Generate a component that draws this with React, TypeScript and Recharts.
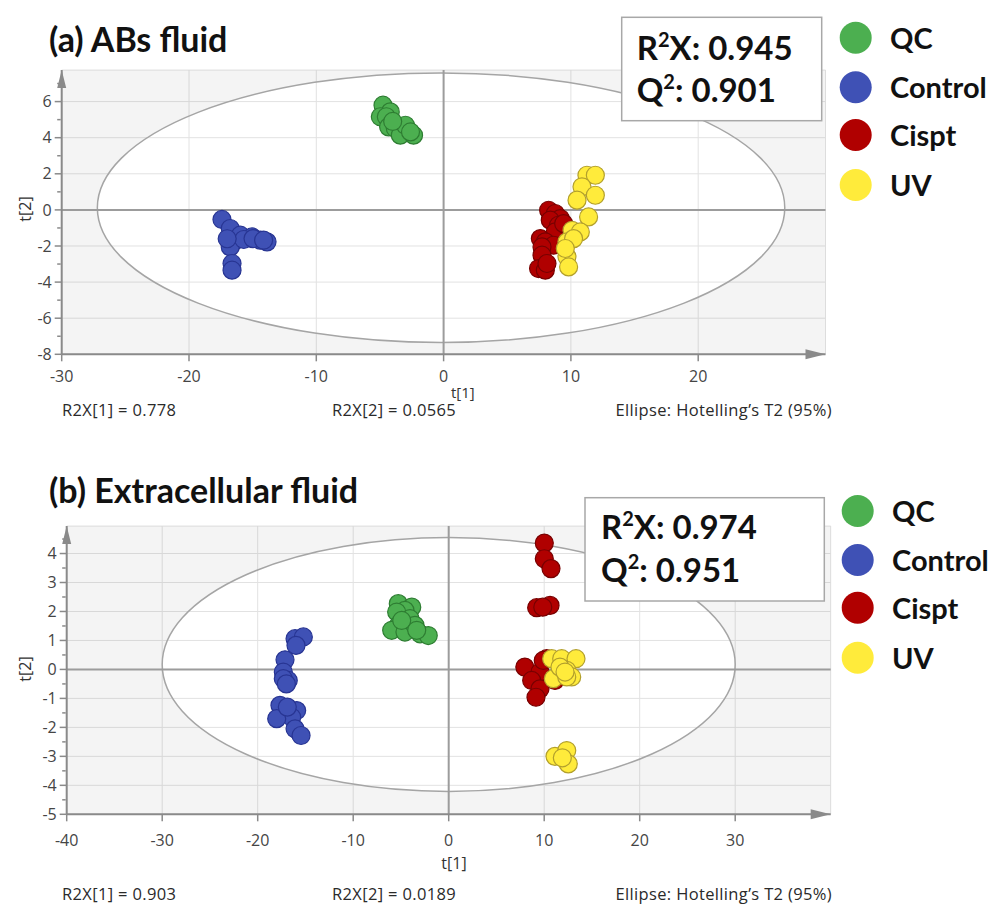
import React from 'react';
import {
  ScatterChart,
  Scatter,
  XAxis,
  YAxis,
  CartesianGrid,
  ReferenceArea,
  ReferenceLine,
  ReferenceDot,
} from 'recharts';

type Pt = [number, number];

const seriesNames = ['QC', 'Control', 'Cispt', 'UV'];
const seriesFill = ['#4caf50', '#3f51b5', '#b00000', '#ffeb3b'];
const seriesStroke = ['#2e7d32', '#283593', '#780000', '#b3a02c'];

// ---------- Panel (a) ABs fluid ----------
const abQC: Pt[] = [
  [-4.76, 5.8], [-4.19, 5.43], [-4.97, 5.16], [-4.5, 5.16], [-4.32, 4.6], [-3.79, 4.51],
  [-3.4, 4.14], [-3.0, 4.69], [-2.36, 4.14], [-4.0, 4.9], [-2.6, 4.32],
];
const abControl: Pt[] = [
  [-17.41, -0.53], [-16.76, -1.03], [-16.5, -1.77], [-15.97, -1.4], [-15.05, -1.5], [-14.4, -1.68],
  [-13.87, -1.77], [-16.76, -2.05], [-15.7, -1.64], [-16.62, -2.97], [-16.62, -3.34], [-17.0, -1.6],
  [-14.97, -1.59], [-14.14, -1.68],
];
const abCispt: Pt[] = [
  [8.25, -0.02], [8.77, -0.2], [9.17, -0.48], [8.38, -0.57], [9.03, -0.85], [8.77, -1.22],
  [7.6, -1.59], [7.99, -1.77], [8.64, -1.96], [7.73, -2.05], [7.73, -2.51], [7.46, -3.25],
  [7.99, -3.34], [8.12, -2.97], [9.43, -0.76],
];
const abUV: Pt[] = [
  [11.26, 1.92], [11.92, 1.92], [10.87, 1.28], [11.92, 0.81], [10.48, 0.54], [11.39, -0.39],
  [10.09, -1.13], [10.74, -1.22], [9.69, -1.77], [10.21, -1.59], [9.69, -2.6], [9.82, -3.16],
  [9.56, -2.14],
];
const abXDomain: Pt = [-30, 30];
const abYDomain: Pt = [-8, 7.75];
const abXTicks = [-30, -20, -10, 0, 10, 20];
const abXMinor = [-25, -15, -5, 5, 15, 25];
const abYTicks = [-8, -6, -4, -2, 0, 2, 4, 6];
const abYMinor = [-7, -5, -3, -1, 1, 3, 5, 7];
const abEllipse = { cx: -0.2, cy: 0.12, rx: 27, ry: 7.47 };
const abStats = ['0.945', '0.901'];
const abFooter = ['R2X[1] = 0.778', 'R2X[2] = 0.0565', 'Ellipse: Hotelling’s T2 (95%)'];

// ---------- Panel (b) Extracellular fluid ----------
const efQC: Pt[] = [
  [-5.28, 2.27], [-3.87, 2.15], [-4.58, 2.04], [-5.45, 1.98], [-4.05, 1.75], [-5.28, 1.52],
  [-5.97, 1.35], [-4.58, 1.29], [-3.53, 1.52], [-3.0, 1.23], [-2.14, 1.17], [-4.92, 1.69],
  [-3.35, 1.35],
];
const efControl: Pt[] = [
  [-16.09, 1.06], [-15.22, 1.12], [-15.99, 0.83], [-17.14, 0.33], [-17.32, -0.09], [-16.8, -0.38],
  [-17.32, -0.32], [-17.0, -0.5], [-17.67, -1.24], [-15.92, -1.42], [-16.44, -1.65], [-18.01, -1.7],
  [-16.09, -2.05], [-15.46, -2.28], [-16.9, -1.3],
];
const efCispt: Pt[] = [
  [10.01, 4.36], [10.01, 3.82], [10.71, 3.48], [9.21, 2.13], [10.61, 2.21], [9.85, 2.15],
  [7.97, 0.08], [10.26, 0.37], [9.56, -0.09], [8.69, -0.38], [9.56, -0.67], [9.14, -0.96],
  [11.13, -0.38], [9.9, 0.31],
];
const efUV: Pt[] = [
  [10.78, 0.37], [11.83, 0.37], [13.33, 0.37], [12.36, -0.03], [10.96, -0.32], [12.88, -0.26],
  [11.65, 0.08], [12.36, -0.26], [12.18, -0.09], [11.13, -3.0], [12.36, -2.8], [12.52, -3.26],
  [11.9, -3.05],
];
const efXDomain: Pt = [-40, 40];
const efYDomain: Pt = [-5, 4.95];
const efXTicks = [-40, -30, -20, -10, 0, 10, 20, 30];
const efXMinor = [-35, -25, -15, -5, 5, 15, 25, 35];
const efYTicks = [-5, -4, -3, -2, -1, 0, 1, 2, 3, 4];
const efYMinor = [-4.5, -3.5, -2.5, -1.5, -0.5, 0.5, 1.5, 2.5, 3.5, 4.5];
const efEllipse = { cx: 0, cy: 0.17, rx: 30, ry: 4.38 };
const efStats = ['0.974', '0.951'];
const efFooter = ['R2X[1] = 0.903', 'R2X[2] = 0.0189', 'Ellipse: Hotelling’s T2 (95%)'];

const AXIS = '#8a8a8a';
const TICK_FONT = { fill: '#454545', fontSize: 16, fontFamily: 'Open Sans' };
const noLabel = () => '';

type PanelProps = {
  top: number;
  height: number;
  margin: { top: number; right: number; bottom: number; left: number };
  xDomain: Pt;
  yDomain: Pt;
  xTicks: number[];
  xMinor: number[];
  yTicks: number[];
  yMinor: number[];
  xTickMargin: number;
  ellipse: { cx: number; cy: number; rx: number; ry: number };
  series: Pt[][];
};

function Panel(p: PanelProps) {
  const { xDomain, yDomain, ellipse } = p;
  const bgShape = (s: any) => {
    const { x, y, width, height } = s;
    const ecx = x + ((ellipse.cx - xDomain[0]) / (xDomain[1] - xDomain[0])) * width;
    const ecy = y + ((yDomain[1] - ellipse.cy) / (yDomain[1] - yDomain[0])) * height;
    const erx = (ellipse.rx / (xDomain[1] - xDomain[0])) * width;
    const ery = (ellipse.ry / (yDomain[1] - yDomain[0])) * height;
    const d =
      `M${x},${y} h${width} v${height} h${-width} Z ` +
      `M${ecx - erx},${ecy} a${erx},${ery} 0 1,0 ${2 * erx},0 a${erx},${ery} 0 1,0 ${-2 * erx},0 Z`;
    return <path d={d} fill="#000" fillOpacity={0.045} fillRule="evenodd" stroke="none" />;
  };
  const ellipseShape = (s: any) => (
    <ellipse
      cx={s.x + s.width / 2}
      cy={s.y + s.height / 2}
      rx={s.width / 2}
      ry={s.height / 2}
      fill="none"
      stroke="#a5a5a5"
      strokeWidth={1.5}
    />
  );
  const upArrow = (s: any) => (
    <path d={`M${s.cx},${s.cy} L${s.cx - 4.5},${s.cy + 18} L${s.cx + 4.5},${s.cy + 18} Z`} fill={AXIS} />
  );
  const rightArrow = (s: any) => (
    <path d={`M${s.cx},${s.cy} L${s.cx - 20},${s.cy - 5} L${s.cx - 20},${s.cy + 5} Z`} fill={AXIS} />
  );
  return (
    <div style={{ position: 'absolute', left: 0, top: p.top, width: 993, height: p.height }}>
      <ScatterChart width={993} height={p.height} margin={p.margin}>
        <CartesianGrid stroke="#e2e2e2" strokeWidth={1} />
        <ReferenceArea
          x1={xDomain[0]}
          x2={xDomain[1]}
          y1={yDomain[0]}
          y2={yDomain[1]}
          shape={bgShape}
          ifOverflow="visible"
        />
        <ReferenceArea
          x1={ellipse.cx - ellipse.rx}
          x2={ellipse.cx + ellipse.rx}
          y1={ellipse.cy - ellipse.ry}
          y2={ellipse.cy + ellipse.ry}
          shape={ellipseShape}
          ifOverflow="visible"
        />
        <ReferenceLine x={0} stroke="#9c9c9c" strokeWidth={2} />
        <ReferenceLine y={0} stroke="#9c9c9c" strokeWidth={2} />
        <XAxis
          type="number"
          dataKey="x"
          domain={xDomain}
          ticks={p.xTicks}
          interval={0}
          height={1}
          allowDataOverflow
          axisLine={{ stroke: AXIS, strokeWidth: 2 }}
          tickLine={{ stroke: AXIS, strokeWidth: 1.5 }}
          tickSize={7}
          tickMargin={p.xTickMargin}
          tick={TICK_FONT}
        />
        <XAxis
          xAxisId="minor"
          type="number"
          domain={xDomain}
          ticks={p.xMinor}
          interval={0}
          height={1}
          allowDataOverflow
          axisLine={false}
          tickSize={3.5}
          tickLine={{ stroke: AXIS, strokeWidth: 1.5 }}
          tickFormatter={noLabel}
        />
        <YAxis
          type="number"
          dataKey="y"
          domain={yDomain}
          ticks={p.yTicks}
          interval={0}
          width={1}
          allowDataOverflow
          axisLine={{ stroke: AXIS, strokeWidth: 2 }}
          tickLine={{ stroke: AXIS, strokeWidth: 1.5 }}
          tickSize={7}
          tickMargin={3}
          tick={TICK_FONT}
        />
        <YAxis
          yAxisId="minor"
          type="number"
          domain={yDomain}
          ticks={p.yMinor}
          interval={0}
          width={1}
          allowDataOverflow
          axisLine={false}
          tickSize={3.5}
          tickLine={{ stroke: AXIS, strokeWidth: 1.5 }}
          tickFormatter={noLabel}
        />
        {p.series.map((pts, i) => (
          <Scatter
            key={seriesNames[i]}
            name={seriesNames[i]}
            data={pts.map(([x, y]) => ({ x, y }))}
            isAnimationActive={false}
            shape={(s: any) => (
              <circle
                cx={s.cx}
                cy={s.cy}
                r={9}
                fill={seriesFill[i]}
                stroke={seriesStroke[i]}
                strokeWidth={1.2}
              />
            )}
          />
        ))}
        <ReferenceDot x={xDomain[0]} y={yDomain[1]} shape={upArrow} ifOverflow="visible" />
        <ReferenceDot x={xDomain[1]} y={yDomain[0]} shape={rightArrow} ifOverflow="visible" />
      </ScatterChart>
    </div>
  );
}

function Stats({ x, y, w, h, tx, b1, b2, vals }: any) {
  const font = { fontFamily: 'Lato', fontWeight: 700, fontSize: 33, fill: '#111' };
  return (
    <g>
      <rect x={x} y={y} width={w} height={h} fill="#fff" stroke="#a8a8a8" strokeWidth={1.5} />
      <text x={tx} y={b1} {...font}>
        R<tspan dy={-13} fontSize={20}>2</tspan>
        <tspan dy={13}>X: {vals[0]}</tspan>
      </text>
      <text x={tx} y={b2} {...font}>
        Q<tspan dy={-13} fontSize={20}>2</tspan>
        <tspan dy={13}>: {vals[1]}</tspan>
      </text>
    </g>
  );
}

function LegendBlock({ cx, tx, ys }: any) {
  return (
    <g>
      {seriesNames.map((n, i) => (
        <g key={n}>
          <circle cx={cx} cy={ys[i]} r={16} fill={seriesFill[i]} />
          <text x={tx} y={ys[i] + 11} fontFamily="Lato" fontWeight={700} fontSize={29} fill="#111">
            {n}
          </text>
        </g>
      ))}
    </g>
  );
}

function Footer({ y, items }: any) {
  const f = { fontFamily: 'Open Sans', fontSize: 16.5, fill: '#2a2a2a', letterSpacing: 0.35 };
  return (
    <g>
      <text x={62} y={y} {...f}>{items[0]}</text>
      <text x={332} y={y} {...f}>{items[1]}</text>
      <text x={832} y={y} textAnchor="end" {...f}>{items[2]}</text>
    </g>
  );
}

export default function App() {
  const axisTitle = { fontFamily: 'Open Sans', fontSize: 16, fill: '#333' };
  return (
    <div
      style={{
        position: 'absolute',
        left: 0,
        top: 0,
        width: 993,
        height: 906,
        background: '#fff',
        fontFamily: 'Open Sans',
      }}
    >
      <Panel
        top={0}
        height={450}
        margin={{ top: 70, right: 167.5, bottom: 93.7, left: 59.7 }}
        xDomain={abXDomain}
        yDomain={abYDomain}
        xTicks={abXTicks}
        xMinor={abXMinor}
        yTicks={abYTicks}
        yMinor={abYMinor}
        xTickMargin={9}
        ellipse={abEllipse}
        series={[abQC, abControl, abCispt, abUV]}
      />
      <Panel
        top={450}
        height={456}
        margin={{ top: 76, right: 162.3, bottom: 89.7, left: 64.7 }}
        xDomain={efXDomain}
        yDomain={efYDomain}
        xTicks={efXTicks}
        xMinor={efXMinor}
        yTicks={efYTicks}
        yMinor={efYMinor}
        xTickMargin={13}
        ellipse={efEllipse}
        series={[efQC, efControl, efCispt, efUV]}
      />
      <svg
        width={993}
        height={906}
        style={{ position: 'absolute', left: 0, top: 0, pointerEvents: 'none' }}
      >
        <text x={49} y={52} fontFamily="Lato" fontWeight={700} fontSize={34} fill="#111">
          (a) ABs fluid
        </text>
        <text x={49} y={503} fontFamily="Lato" fontWeight={700} fontSize={34} fill="#111">
          (b) Extracellular fluid
        </text>
        <text x={0} y={0} transform="translate(31,209) rotate(-90)" textAnchor="middle" {...axisTitle}>
          t[2]
        </text>
        <text x={0} y={0} transform="translate(31,669) rotate(-90)" textAnchor="middle" {...axisTitle}>
          t[2]
        </text>
        <text x={451} y={398} {...axisTitle} fontSize={15}>t[1]</text>
        <text x={454} y={869} textAnchor="middle" {...axisTitle}>t[1]</text>
        <Stats x={621.7} y={17.3} w={200} h={103.4} tx={636.7} b1={60} b2={102} vals={abStats} />
        <Stats x={585} y={497.7} w={239.3} h={103.3} tx={601} b1={539.3} b2={582} vals={efStats} />
        <LegendBlock cx={855.7} tx={890} ys={[37.7, 87.3, 135, 185]} />
        <LegendBlock cx={857.7} tx={892} ys={[511, 560, 607.7, 657.7]} />
        <Footer y={416} items={abFooter} />
        <Footer y={900} items={efFooter} />
      </svg>
    </div>
  );
}
